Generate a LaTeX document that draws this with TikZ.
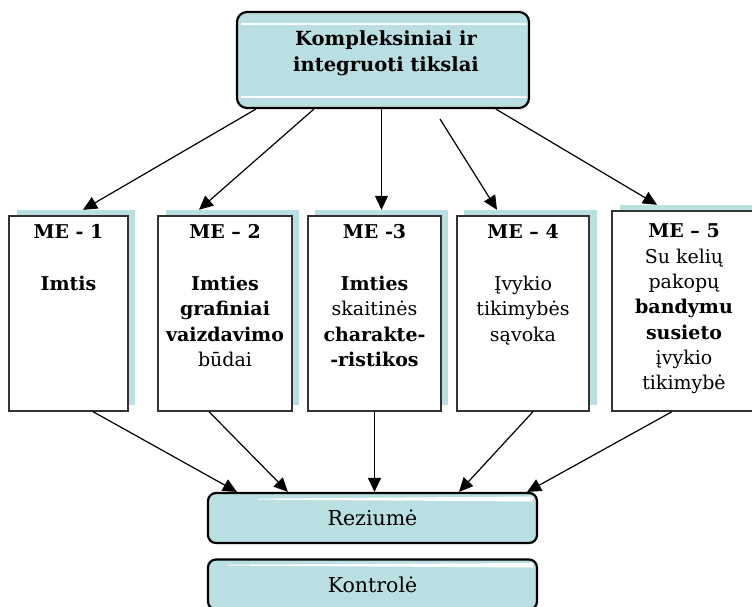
\documentclass[tikz,border=0pt]{standalone}
\usepackage{fontspec}
\setmainfont{DejaVu Serif}
\usetikzlibrary{arrows.meta,calc}
\definecolor{paleteal}{RGB}{186,223,227}
\begin{document}
\begin{tikzpicture}[x=1pt,y=-1pt,
  lbl/.style={font=\fontsize{19}{25.3}\selectfont, align=center, inner sep=0pt, anchor=north, text=black},
  mebox/.style={draw=black!80, line width=1.3pt, fill=white, minimum width=#1, minimum height=195pt, inner sep=0pt},
  shadowbox/.style={fill=paleteal, minimum width=#1, minimum height=195pt, inner sep=0pt},
  roundbox/.style={draw=black, line width=2.2pt, fill=paleteal, rounded corners=8pt, inner sep=0pt,
    font=\fontsize{20.5}{25.3}\selectfont, text=black},
  link/.style={line width=1.2pt, -{Triangle[length=14pt,width=13pt]}},
]
\useasboundingbox (0,0) rectangle (752,606);
\clip (0,0) rectangle (752,606);

% goal box at the top
\node[roundbox, minimum width=292pt, minimum height=96pt, rounded corners=10pt] (goal) at (383,60) {};
\draw[white, line width=1.4pt] (241,24) -- (527,24);
\draw[white, line width=1.8pt] (241,97) -- (527,97);
\node[lbl, font=\bfseries\fontsize{19.5}{25.3}\selectfont] (goaltxt) at ($(goal.north)+(3,20)$)
  {Kompleksiniai ir\\integruoti tikslai};

% module shadows
\node[shadowbox=118pt] (me1s) at (76,307.5) {};
\node[shadowbox=133pt] (me2s) at (232.5,307.5) {};
\node[shadowbox=133pt] (me3s) at (381.5,307.5) {};
\node[shadowbox=133pt] (me4s) at (530.5,307.5) {};
\node[shadowbox=144pt, minimum height=200pt] (me5s) at (691.5,305) {};

% module boxes
\node[mebox=119pt] (me1) at (68.5,313.5) {};
\node[mebox=134pt] (me2) at (225,313.5) {};
\node[mebox=133pt] (me3) at (374.5,313.5) {};
\node[mebox=132pt] (me4) at (523,313.5) {};
\node[mebox=144pt, minimum height=200pt] (me5) at (684,311) {};

% module texts
\node[lbl] (me1t) at ($(me1.north)+(0,8.5)$)
  {\textbf{ME - 1}\\[27pt]\textbf{Imtis}};
\node[lbl] (me2t) at ($(me2.north)+(0,8.5)$)
  {\textbf{ME – 2}\\[27pt]\textbf{Imties}\\\textbf{grafiniai}\\\textbf{vaizdavimo}\\būdai};
\node[lbl] (me3t) at ($(me3.north)+(0,8.5)$)
  {\textbf{ME -3}\\[27pt]\textbf{Imties}\\skaitinės\\\textbf{charakte-}\\\textbf{-ristikos}};
\node[lbl] (me4t) at ($(me4.north)+(0,8.5)$)
  {\textbf{ME – 4}\\[27pt]Įvykio\\tikimybės\\sąvoka};
\node[lbl] (me5t) at ($(me5.north)+(0,13.5)$)
  {\textbf{ME – 5}\\Su kelių\\pakopų\\\textbf{bandymu}\\\textbf{susieto}\\įvykio\\tikimybė};

% summary and control
\node[roundbox, minimum width=329pt, minimum height=50pt] (rez) at (372.5,518) {Reziumė};
\fill[white] (258,498.6) -- (533,496.5) -- (533,501.5) -- (258,499.6) -- cycle;
\node[roundbox, minimum width=329pt, minimum height=50pt] (kon) at (372.5,584.5) {Kontrolė};
\fill[white] (228,564.6) -- (533,563) -- (533,567.5) -- (228,565.6) -- cycle;

% arrows from the goal to the modules
\coordinate (g4) at (440,119);
\draw[link] ([xshift=20pt]goal.south west) -- ([xshift=7pt]me1s.north);
\draw[link] ([xshift=78pt]goal.south west) -- ([xshift=-33.5pt]me2s.north);
\draw[link] (me3s.north |- goal.south) -- (me3s.north);
\draw[link] (g4) -- ([xshift=-33.5pt]me4s.north);
\draw[link] ([xshift=260pt]goal.south west) -- ([xshift=-34.5pt]me5s.north);

% arrows from the modules to the summary
\draw[link] ([xshift=24.5pt]me1.south) -- ([xshift=30pt]rez.north west);
\draw[link] ([xshift=-16pt]me2.south) -- ([xshift=81pt]rez.north west);
\draw[link] (me3.south) -- (me3.south |- rez.north);
\draw[link] ([xshift=10pt]me4.south) -- ([xshift=86.5pt]rez.north);
\draw[link] ([xshift=-12pt]me5.south) -- ([xshift=-11pt]rez.north east);
\end{tikzpicture}
\end{document}
